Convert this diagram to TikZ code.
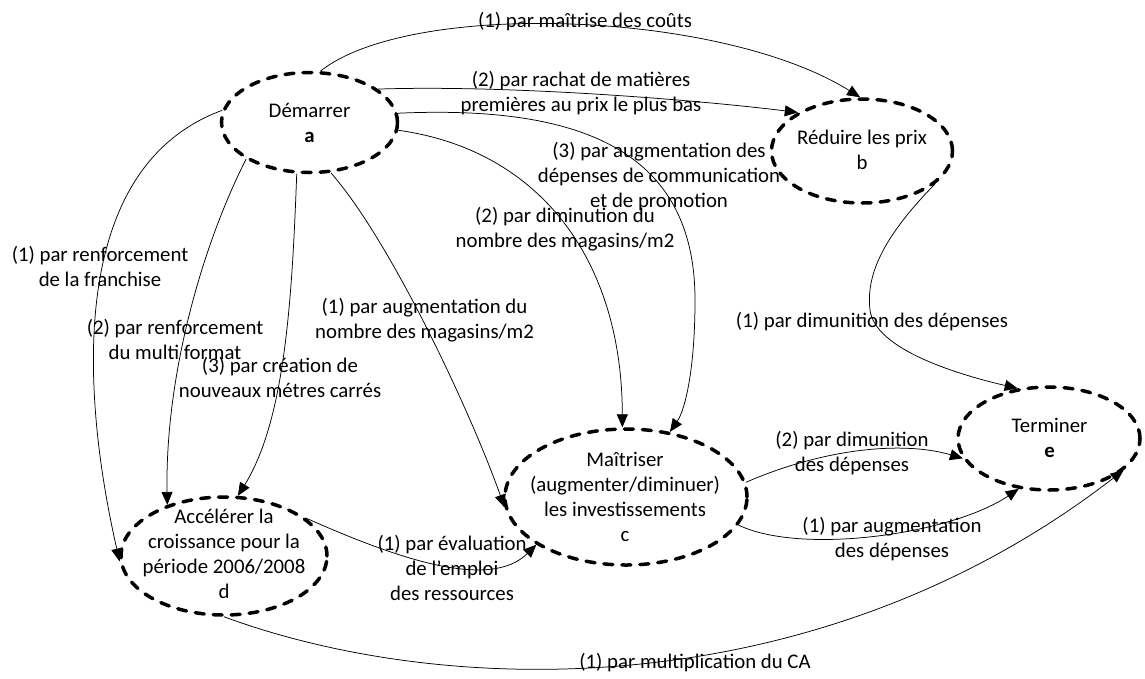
\documentclass[tikz,border=0pt]{standalone}
\usepackage{fontspec}
\setmainfont{Carlito}
\usetikzlibrary{shapes.geometric,arrows.meta}
\newcommand{\labfont}{\fontsize{20.8pt}{25pt}\selectfont}
\begin{document}
\begin{tikzpicture}[x=1pt,y=-1pt,
  stt/.style={ellipse, draw, line width=3.5pt, dash pattern=on 9pt off 9pt, line cap=round, inner sep=0pt},
  txt/.style={font=\labfont, align=center, inner sep=0pt},
  arr/.style={-{Triangle[length=13pt,width=11pt]}, line width=0.75pt, line cap=butt},
]
\useasboundingbox (0,0) rectangle (1145,678);
% states
\node[stt, minimum width=176pt, minimum height=100pt] (a) at (309.5,122.5) {};
\node[stt, minimum width=181pt, minimum height=104pt] (b) at (862,151) {};
\node[stt, minimum width=242pt, minimum height=136pt] (c) at (626,497) {};
\node[stt, minimum width=206pt, minimum height=118pt] (d) at (224,556) {};
\node[stt, minimum width=182pt, minimum height=103pt] (e) at (1049,438.5) {};
\node[txt] (aT) at (309.5,124.5) {\strut Démarrer\\\strut\textbf{a}};
\node[txt] (bT) at (862,151.5) {\strut Réduire les prix\\\strut b};
\node[txt] (cT) at (625,498.5) {\strut Maîtriser\\\strut (augmenter/diminuer)\\\strut les investissements\\\strut c};
\node[txt] (dT) at (224,555.5) {\strut Accélérer la\\\strut croissance pour la\\\strut période 2006/2008\\\strut d};
\node[txt] (eT) at (1049.5,440) {\strut Terminer\\\strut\textbf{e}};
% connectors
\draw[arr] (a.78) .. controls (410,0) and (720,10) .. (b.92);
\draw[arr] (a.26) .. controls (500,85) and (680,98) .. (b.149);
\draw[arr] (a.6) .. controls (580,105) and (695,150) .. (695,300) .. controls (695,370) and (685,410) .. (c.56);
\draw[arr] (a.-5) .. controls (540,150) and (622,260) .. (c.93);
\draw[arr] (a.-67.5) .. controls (390,240) and (470,410) .. (c.185);
\draw[arr] (a.172) .. controls (60,170) and (85,410) .. (d.183);
\draw[arr] (a.210) .. controls (200,250) and (165,380) .. (d.138);
\draw[arr] (a.256) .. controls (292,300) and (285,420) .. (d.77);
\draw[arr] (d.25) .. controls (400,560) and (490,590) .. (c.208);
\draw[arr] (d.270) .. controls (450,700) and (820,705) .. (e.-23);
\draw[arr] (b.-24) .. controls (890,230) and (865,270) .. (870,310) .. controls (875,350) and (960,375) .. (e.122);
\draw[arr] (c.7) .. controls (820,450) and (900,440) .. (e.193);
\draw[arr] (c.-14) .. controls (800,555) and (950,535) .. (e.239);
% labels
\node[txt] (l1) at (585,22) {\strut (1) par maîtrise des coûts};
\node[txt] (l2) at (581,93.5) {\strut (2) par rachat de matières\\\strut premières au prix le plus bas};
\node[txt] (l3) at (659,177) {\strut (3) par augmentation des\\\strut dépenses de communication\\\strut et de promotion};
\node[txt] (l4) at (565,229.5) {\strut (2) par diminution du\\\strut nombre des magasins/m2};
\node[txt] (l5) at (424.5,321) {\strut (1) par augmentation du\\\strut nombre des magasins/m2};
\node[txt] (l6) at (100,268.5) {\strut (1) par renforcement\\\strut de la franchise};
\node[txt] (l7) at (175,341.5) {\strut (2) par renforcement\\\strut du multi format};
\node[txt] (l8) at (280,380) {\strut (3) par création de\\\strut nouveaux métres carrés};
\node[txt] (l9) at (452,570) {\strut (1) par évaluation\\\strut de l'emploi\\\strut des ressources};
\node[txt] (l10) at (695,663) {\strut (1) par multiplication du CA};
\node[txt] (l11) at (872,322) {\strut (1) par dimunition des dépenses};
\node[txt] (l12) at (852,453.5) {\strut (2) par dimunition\\\strut des dépenses};
\node[txt] (l13) at (892,539.5) {\strut (1) par augmentation\\\strut des dépenses};
\end{tikzpicture}
\end{document}
